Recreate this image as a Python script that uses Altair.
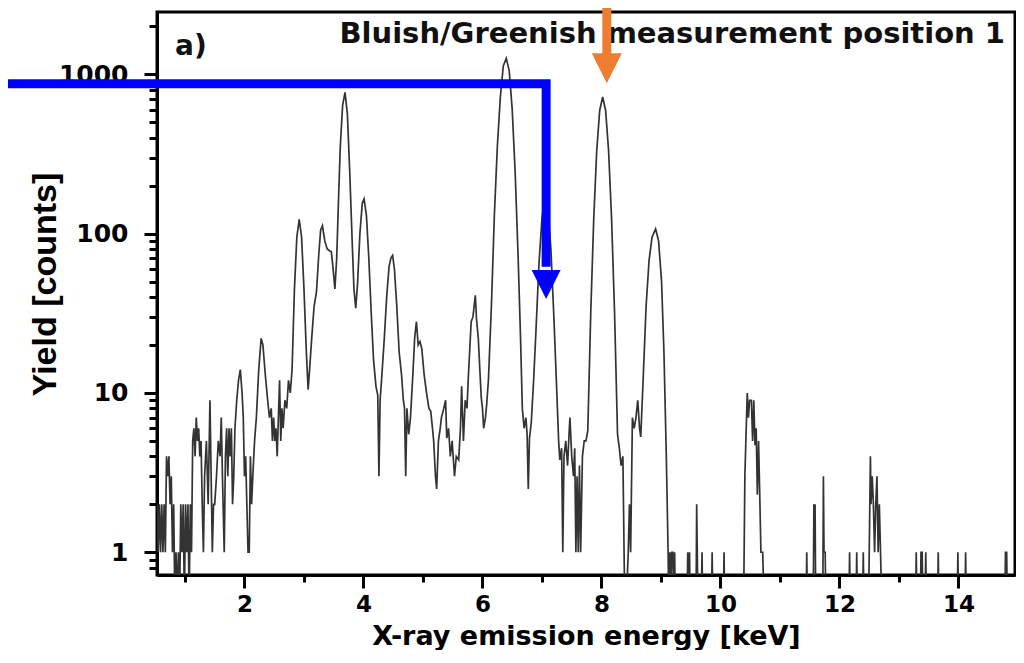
import altair as alt
import pandas as pd

# ---------------- spectrum ----------------
e_low = [0.53, 0.55, 0.57, 0.59, 0.61, 0.63, 0.65, 0.67, 0.69, 0.71,
         0.73, 0.75, 0.77, 0.79, 0.81, 0.83, 0.85, 0.87, 0.89, 0.91,
         0.93, 0.95, 0.97, 0.99, 1.01, 1.03, 1.05, 1.07, 1.09, 1.11,
         1.13, 1.15, 1.17, 1.19, 1.21, 1.23, 1.25, 1.27, 1.29, 1.31,
         1.33, 1.36, 1.39, 1.42, 1.44, 1.46, 1.48, 1.50, 1.53, 1.56,
         1.59, 1.61, 1.63, 1.66, 1.68, 1.70, 1.72, 1.74, 1.76, 1.78,
         1.80, 1.82, 1.84, 1.87, 1.90, 1.93, 1.96, 1.98, 2.00, 2.02,
         2.04, 2.06, 2.08, 2.10, 2.12, 2.14, 2.17, 2.20, 2.24, 2.28]
c_low = [2, 1, 2, 1, 2, 1, 2, 1, 4, 3,
         4, 2, 3, 1, 2, 0, 1, 0, 1, 0,
         2, 1, 2, 0, 2, 1, 2, 0, 2, 1,
         5, 6, 4, 7, 5, 6, 4, 5, 2, 1,
         3, 5, 2, 9, 3, 1, 2, 2, 3, 5,
         4, 7, 3, 1, 4, 6, 3, 6, 4, 6,
         2, 3, 6, 9, 12, 14, 10, 7, 3, 4,
         2, 1, 1, 4, 2, 3, 5, 7, 14, 22]

e_mid = [2.31, 2.35, 2.39, 2.42, 2.45, 2.47, 2.49, 2.51, 2.53, 2.55,
         2.57, 2.59, 2.61, 2.63, 2.65, 2.68, 2.71, 2.74, 2.77, 2.80,
         2.84, 2.88, 2.92, 2.96, 3.00, 3.04, 3.07, 3.10, 3.13, 3.17,
         3.21, 3.25, 3.28, 3.31, 3.35, 3.39, 3.43, 3.46, 3.49, 3.52,
         3.55, 3.58, 3.61, 3.65, 3.69, 3.73, 3.77, 3.81, 3.84, 3.87,
         3.90, 3.94, 3.98, 4.01, 4.05, 4.09, 4.13, 4.17, 4.21, 4.24,
         4.26, 4.28, 4.31, 4.35, 4.39, 4.43, 4.46, 4.49, 4.52, 4.56,
         4.60, 4.64, 4.67, 4.69, 4.71, 4.73, 4.76, 4.79, 4.83, 4.86,
         4.89, 4.92, 4.95, 4.98, 5.02, 5.06, 5.10, 5.13, 5.16, 5.18,
         5.21, 5.23, 5.26, 5.29, 5.31, 5.35, 5.38, 5.40, 5.43, 5.46,
         5.49, 5.53, 5.56, 5.60, 5.63, 5.65, 5.68, 5.71, 5.74, 5.76,
         5.79, 5.81, 5.84, 5.88, 5.90, 5.93, 5.96, 5.98, 6.00, 6.02]
c_mid = [20, 13, 9, 7, 8, 5, 7, 5, 6, 4,
         7, 12, 5, 8, 6, 9, 8, 12, 10, 14,
         45, 95, 123, 95, 45, 18, 10.5, 15, 22, 35,
         43, 75, 105, 112, 90, 80, 78, 77, 60, 45,
         70, 160, 350, 640, 770, 560, 240, 90, 45, 34,
         48, 100, 155, 165, 130, 70, 32, 16, 11, 9.7,
         3, 9, 13, 22, 40, 62, 70, 73, 60, 35,
         18, 13, 9, 8, 3, 8, 5.5, 7, 13, 22,
         28, 20, 21, 19, 13, 10, 8, 7.7, 6, 5,
         3, 2.5, 5, 6, 7, 8, 9, 5.2, 6, 4,
         5, 3, 4, 3.8, 6, 11, 5, 9, 8, 12,
         20, 28, 30, 41, 29, 22, 13, 9.3, 8, 6]

e_high = [6.05, 6.07, 6.10, 6.15, 6.20, 6.25, 6.30, 6.35, 6.40, 6.45,
          6.50, 6.55, 6.60, 6.64, 6.67, 6.70, 6.73, 6.75, 6.77, 6.79,
          6.82, 6.86, 6.90, 6.95, 7.00, 7.05, 7.10, 7.15, 7.20, 7.25,
          7.28, 7.30, 7.33, 7.35, 7.37, 7.40, 7.43, 7.46, 7.47, 7.50,
          7.53, 7.55, 7.57, 7.59, 7.61, 7.63, 7.65, 7.68, 7.71, 7.74,
          7.77, 7.82, 7.87, 7.92, 7.97, 8.02, 8.07, 8.12, 8.17, 8.22,
          8.27, 8.30, 8.33, 8.36, 8.39, 8.42, 8.45, 8.47, 8.49, 8.52,
          8.55, 8.58, 8.61, 8.64, 8.66, 8.70, 8.75, 8.80, 8.85, 8.91,
          8.96, 9.01, 9.05, 9.09, 9.12, 9.13]
c_high = [7, 8.4, 12, 35, 131, 352, 715, 1130, 1260, 1050,
          600, 240, 70, 22, 8, 6, 7, 5.5, 2.5, 5.2,
          6.5, 12, 25, 65, 125, 170, 145, 80, 30, 10,
          5, 3.8, 4.5, 1, 4, 5, 3.5, 6, 7, 4,
          3, 4.5, 1, 3, 1, 3.5, 1, 4, 5, 5,
          5.8, 32, 124, 330, 593, 720, 593, 330, 124, 32,
          5.5, 4.5, 3.5, 4, 0, 0, 1, 2, 1, 7,
          6, 7, 9, 6, 5.3, 12, 35, 68, 95, 107,
          90, 50, 18, 4, 1, 0]

e_tail = [9.15, 9.16, 9.18, 9.20, 9.21, 9.23, 9.24, 9.44, 9.45, 9.46,
          9.48, 9.49, 9.59, 9.60, 9.61, 9.62, 9.68, 9.69, 9.70, 9.85,
          9.86, 9.87, 10.05, 10.06, 10.07, 10.39, 10.41, 10.45, 10.47, 10.49,
          10.52, 10.54, 10.56, 10.58, 10.60, 10.62, 10.64, 10.66, 10.68, 10.71,
          10.73, 11.44, 11.45, 11.46, 11.56, 11.57, 11.58, 11.59, 11.60, 11.72,
          11.73, 11.74, 11.76, 11.77, 12.16, 12.17, 12.18, 12.28, 12.29, 12.30,
          12.39, 12.40, 12.41, 12.49, 12.50, 12.52, 12.53, 12.55, 12.57, 12.59,
          12.61, 12.63, 12.65, 12.67, 12.69, 12.71, 13.28, 13.29, 13.30, 13.36,
          13.37, 13.39, 13.40, 13.44, 13.45, 13.46, 13.65, 13.66, 13.67, 13.98,
          13.99, 14.00, 14.11, 14.12, 14.13, 14.78, 14.79, 14.81, 14.82, 14.95]
c_tail = [1, 0, 1, 1, 0, 1, 0, 0, 1, 0,
          1, 0, 0, 2, 1, 0, 0, 1, 0, 0,
          1, 0, 0, 1, 0, 0, 3, 10, 7, 9,
          9, 5, 9, 4.7, 6, 2.3, 5, 2.3, 1, 1,
          0, 0, 1, 0, 0, 2, 1, 2, 0, 0,
          3, 1, 1, 0, 0, 1, 0, 0, 1, 0,
          0, 1, 0, 0, 1, 4, 2, 3, 2, 1,
          2, 3, 1, 2, 1, 0, 0, 1, 0, 0,
          1, 1, 0, 0, 1, 0, 0, 1, 0, 0,
          1, 0, 0, 1, 0, 0, 1, 1, 0, 0]

energy = e_low + e_mid + e_high + e_tail
counts = c_low + c_mid + c_high + c_tail

# axis ticks
major_x = [2, 4, 6, 8, 10, 12, 14]
minor_x = [1, 3, 5, 7, 9, 11, 13]
major_y = [1, 10, 100, 1000]
minor_y = [0.8, 0.9, 2, 3, 4, 5, 6, 7, 8, 9, 20, 30, 40, 50, 60, 70, 80, 90,
           200, 300, 400, 500, 600, 700, 800, 900, 2000]

# annotation arrows (data coordinates)
blue_e = [-2.3, 7.07, 7.07]
blue_c = [872, 872, 62]
blue_head_e = [7.07]
blue_head_c = [48]
orange_e = [8.09, 8.09]
orange_c = [4000, 1340]
orange_head_e = [8.09]
orange_head_c = [1090]

df = pd.DataFrame({"energy": energy, "counts": counts})
df["idx"] = range(len(df))
df["y"] = df["counts"].where(df["counts"] > 0, 0.5)

xs = alt.Scale(domain=[0.53, 14.95], nice=False, zero=False)
ys = alt.Scale(type="log", domain=[0.72, 2460], nice=False)

FONT = "DejaVu Sans"

spectrum = alt.Chart(df).mark_line(color="#333333", strokeWidth=1.7, clip=True).encode(
    x=alt.X("energy:Q", scale=xs,
            axis=alt.Axis(values=major_x, orient="bottom", tickSize=13, labelPadding=5,
                          labelFontSize=23,
                          title="X-ray emission energy [keV]", titleFontSize=27,
                          titleY=69, titleBaseline="alphabetic", titleAlign="center")),
    y=alt.Y("y:Q", scale=ys,
            axis=alt.Axis(values=major_y, format="d", orient="left", tickSize=13, labelPadding=16,
                          title="Yield [counts]", titleFont="Liberation Sans", titleFontSize=34,
                          titleX=-102, titleY=272, titleAngle=270, titleAlign="center",
                          titleBaseline="alphabetic")),
    order="idx:Q",
)

minor = alt.Chart(df).mark_line(opacity=0).encode(
    x=alt.X("energy:Q", scale=xs,
            axis=alt.Axis(values=minor_x, orient="bottom", tickSize=7, labels=False,
                          domain=False, title="")),
    y=alt.Y("y:Q", scale=ys,
            axis=alt.Axis(values=minor_y, orient="left", tickSize=8, labels=False,
                          domain=False, title="")),
)

blue_df = pd.DataFrame({"e": blue_e, "c": blue_c, "o": [0, 1, 2]})
blue = alt.Chart(blue_df).mark_line(color="#0000FF", strokeWidth=9, clip=False,
                                    strokeCap="butt", strokeJoin="miter").encode(
    x=alt.X("e:Q", scale=xs, axis=None),
    y=alt.Y("c:Q", scale=ys, axis=None),
    order="o:Q",
)
blue_head = alt.Chart(pd.DataFrame({"e": blue_head_e, "c": blue_head_c})).mark_point(
    shape="M-1,-1L1,-1L0,1Z", size=841, filled=True, opacity=1, color="#0000FF",
    strokeWidth=0, clip=False).encode(
    x=alt.X("e:Q", scale=xs, axis=None),
    y=alt.Y("c:Q", scale=ys, axis=None),
)

orange_df = pd.DataFrame({"e": orange_e, "c": orange_c, "o": [0, 1]})
orange = alt.Chart(orange_df).mark_line(color="#ED7D31", strokeWidth=9, clip=False,
                                        strokeCap="butt").encode(
    x=alt.X("e:Q", scale=xs, axis=None),
    y=alt.Y("c:Q", scale=ys, axis=None),
    order="o:Q",
)
orange_head = alt.Chart(pd.DataFrame({"e": orange_head_e, "c": orange_head_c})).mark_point(
    shape="M-1,-1L1,-1L0,1Z", size=900, filled=True, opacity=1, color="#ED7D31",
    strokeWidth=0, clip=False).encode(
    x=alt.X("e:Q", scale=xs, axis=None),
    y=alt.Y("c:Q", scale=ys, axis=None),
)

panel_label = alt.Chart(pd.DataFrame({"t": ["a)"]})).mark_text(
    font=FONT, fontSize=28, fontWeight="bold", color="#111111", align="left",
    baseline="alphabetic").encode(text="t:N", x=alt.value(18), y=alt.value(43))

title_text = alt.Chart(pd.DataFrame({"t": ["Bluish/Greenish measurement position 1"]})).mark_text(
    font=FONT, fontSize=29, fontWeight="bold", color="#111111", align="right",
    baseline="alphabetic").encode(text="t:N", x=alt.value(848), y=alt.value(31))

chart = alt.layer(
    spectrum, minor, title_text, panel_label, blue, blue_head, orange, orange_head
).resolve_axis(x="independent", y="independent").properties(
    width=858, height=563,
    padding={"left": 149, "top": 4, "right": 1, "bottom": 75},
    autosize=alt.AutoSizeParams(type="none"),
).configure_view(
    stroke="black", strokeWidth=3
).configure_axis(
    grid=False, domainColor="black", domainWidth=3, tickColor="black", tickWidth=3,
    labelFont=FONT, labelFontSize=25, labelFontWeight="bold", labelColor="black",
    titleFont=FONT, titleFontWeight="bold", titleColor="black",
)

chart.save("out.html", embed_options={"renderer": "svg", "actions": False})
